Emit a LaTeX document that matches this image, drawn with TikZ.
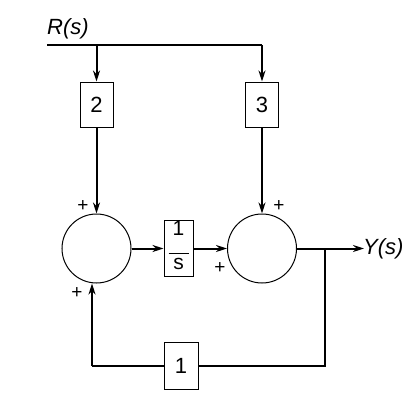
\documentclass[tikz,border=0pt]{standalone}
\usepackage{fontspec}
\setmainfont{Liberation Sans}
\usetikzlibrary{arrows.meta}
\newcommand{\myfrac}[2]{\begin{tabular}{@{}c@{}}#1\\[-4pt]\rule{20pt}{0.9pt}\\[-6pt]#2\end{tabular}}
\begin{document}
\begin{tikzpicture}[x=1pt,y=-1pt,
  blk/.style={draw,line width=1pt,minimum width=33pt,minimum height=45pt,inner sep=0pt,font=\fontsize{22}{24}\selectfont},
  sumc/.style={draw,circle,line width=1pt,minimum size=69pt,inner sep=0pt},
  wire/.style={line width=2pt},
  arr/.style={wire,-{Stealth[length=11pt,width=7pt]}},
  lbl/.style={font=\fontsize{22}{24}\selectfont,inner sep=0pt},
  pl/.style={font=\fontsize{19}{20}\selectfont,inner sep=0pt}]
\useasboundingbox (0,0) rectangle (416,402);
\node[blk] (b2) at (96.5,104.5) {2};
\node[blk] (b3) at (262,104.5) {3};
\node[sumc] (s1) at (96.5,248.5) {};
\node[sumc] (s2) at (262,248.5) {};
\node[blk,minimum width=29pt,minimum height=47pt,font=\fontsize{21}{22}\selectfont] (bs) at (178.5,248.5) {\myfrac{1}{s}};
\node[blk,minimum width=34pt,minimum height=47pt] (b1) at (181,366) {1};
\coordinate (rin) at (47,45);
\coordinate (t2) at (96.5,45);
\coordinate (t3) at (262,45);
\coordinate (br) at (325,248.5);
\coordinate (yout) at (364,248.5);
\coordinate (fr) at (325,366);
\coordinate (fl) at (92,366);
\node[lbl,anchor=south west] (rl) at (47,39) {\itshape R(s)};
\node[lbl,anchor=west] (yl) at (363,249) {\itshape Y(s)};
\draw[wire] (rin) -- (t3);
\draw[arr] (t2) -- (b2.north);
\draw[arr] (t3) -- (b3.north);
\draw[arr] (b2.south) -- (s1.north);
\draw[arr] (b3.south) -- (s2.north);
\draw[arr] (s1.east) -- (bs.west);
\draw[arr] (bs.east) -- (s2.west);
\draw[arr] (s2.east) -- (yout);
\draw[wire] (br) -- (fr) -- (b1.east);
\draw[wire] (b1.west) -- (fl);
\draw[arr] (fl) -- (s1.south -| fl);
\node[pl] (p1) at (83,206) {+};
\node[pl] (p2) at (77,293) {+};
\node[pl] (p3) at (279,206) {+};
\node[pl] (p4) at (220,268) {+};
\end{tikzpicture}
\end{document}
